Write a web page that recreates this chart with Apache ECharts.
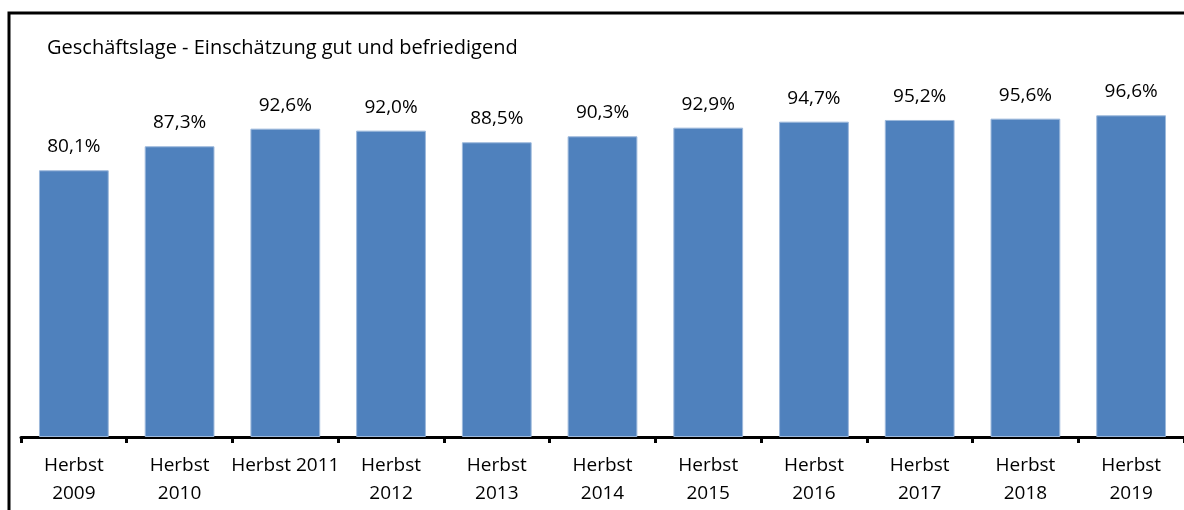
<!DOCTYPE html>
<html>
<head>
<meta charset="utf-8">
<script src="https://cdn.jsdelivr.net/npm/echarts@6/dist/echarts.min.js"></script>
<style>
  html, body { margin: 0; padding: 0; background: #fff; }
  #chart { width: 1184px; height: 510px; }
</style>
</head>
<body>
<div id="chart"></div>
<script>
// Kategorien (Zeilenumbruch wie im Original)
var categories = ['Herbst\n2009', 'Herbst\n2010', 'Herbst 2011', 'Herbst\n2012', 'Herbst\n2013', 'Herbst\n2014',
    'Herbst\n2015', 'Herbst\n2016', 'Herbst\n2017', 'Herbst\n2018', 'Herbst\n2019'];
// gut und befriedigend, in %
var values = [80.1, 87.3, 92.6, 92.0, 88.5, 90.3, 92.9, 94.7, 95.2, 95.6, 96.6];

var titleText = 'Geschäftslage - Einschätzung gut und befriedigend';
var fontFamily = '"Open Sans", sans-serif';

var chart = echarts.init(document.getElementById('chart'));
var option = {
    animation: false,
    title: {
        text: titleText,
        left: 42,
        top: 33,
        textStyle: { fontFamily: fontFamily, fontSize: 20, fontWeight: 'normal', color: '#000' }
    },
    graphic: [
        {
            // Rahmen
            type: 'rect',
            shape: { x: 9, y: 13, width: 1200, height: 520 },
            style: { fill: null, stroke: '#000', lineWidth: 3 },
            silent: true
        }
    ],
    grid: { left: 21, right: -3, top: 104, bottom: 73 },
    xAxis: {
        type: 'category',
        data: categories,
        axisLine: { lineStyle: { color: '#000', width: 3 } },
        axisTick: { show: true, length: 6, lineStyle: { color: '#000', width: 3 } },
        axisLabel: {
            interval: 0,
            margin: 15,
            fontFamily: fontFamily,
            fontSize: 19,
            lineHeight: 28,
            color: '#000'
        }
    },
    yAxis: {
        type: 'value',
        min: 0,
        max: 100,
        show: false
    },
    series: [
        {
            type: 'bar',
            data: values,
            barWidth: '66%',
            itemStyle: { color: '#4F81BD', borderColor: '#9DB9DC', borderWidth: 1 },
            label: {
                show: true,
                position: 'top',
                distance: 14,
                fontFamily: fontFamily,
                fontSize: 19,
                color: '#000',
                formatter: function (p) {
                    return p.value.toFixed(1).replace('.', ',') + '%';
                }
            }
        }
    ]
};
chart.setOption(option);
</script>
</body>
</html>
